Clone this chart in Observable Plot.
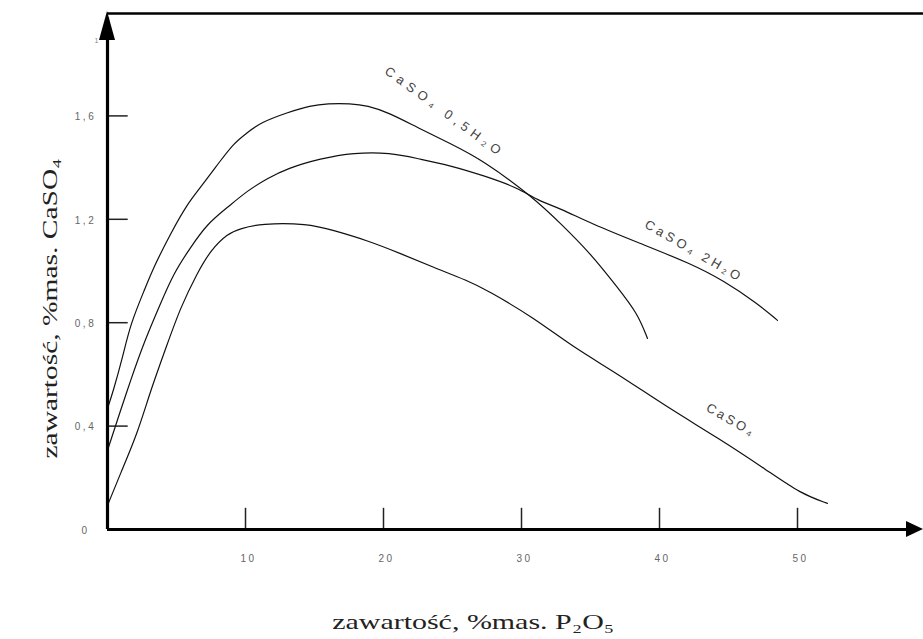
<!DOCTYPE html>
<html>
<head>
<meta charset="utf-8">
<script src="https://cdn.jsdelivr.net/npm/d3@7"></script>
<script src="https://cdn.jsdelivr.net/npm/@observablehq/plot@0.6"></script>
<style>
  html, body { margin: 0; padding: 0; background: #fff; }
  #chart svg { display: block; background: #fff; }
</style>
</head>
<body>
<div id="chart"></div>
<script>
// ---- data ----
const xTickValues = [10, 20, 30, 40, 50];
const xTickLabels = ["10", "20", "30", "40", "50"];
const yTickValues = [0, 0.4, 0.8, 1.2, 1.6];
const yTickLabels = ["0", "0,4", "0,8", "1,2", "1,6"];

// CaSO4·0,5H2O
const hemiX = [0, 0.43, 1.09, 1.67, 2.75, 3.33, 4.57, 5.80, 6.74, 8.19, 9.13, 10.14, 11.09, 13.04, 14.71, 15.94, 17.61, 18.84, 20.36, 22.46, 24.86, 27.25, 30.87, 32.83, 35.0, 36.96, 38.41, 39.13];
const hemiY = [0.468, 0.538, 0.665, 0.797, 0.936, 1.013, 1.145, 1.261, 1.323, 1.427, 1.493, 1.536, 1.574, 1.613, 1.640, 1.648, 1.648, 1.640, 1.613, 1.555, 1.493, 1.427, 1.284, 1.184, 1.068, 0.936, 0.836, 0.739];

// CaSO4·2H2O
const dihX = [0, 0.94, 1.67, 2.61, 3.84, 4.78, 6.01, 7.25, 8.70, 10.14, 11.59, 13.04, 15.43, 17.83, 20.51, 22.46, 24.86, 27.25, 29.71, 31.16, 32.83, 35.0, 38.62, 42.25, 44.64, 47.10, 48.55];
const dihY = [0.306, 0.460, 0.576, 0.720, 0.874, 0.990, 1.091, 1.184, 1.246, 1.311, 1.358, 1.397, 1.435, 1.458, 1.458, 1.435, 1.408, 1.369, 1.323, 1.273, 1.242, 1.184, 1.106, 1.029, 0.963, 0.874, 0.809];

// CaSO4
const anhX = [0, 0.94, 2.17, 3.12, 4.35, 5.29, 6.52, 7.46, 8.70, 9.64, 11.09, 14.49, 16.38, 18.84, 21.23, 23.62, 26.09, 27.54, 30.87, 33.77, 36.96, 40.58, 44.20, 47.83, 50.22, 52.17];
const anhY = [0.093, 0.217, 0.371, 0.538, 0.720, 0.859, 0.994, 1.079, 1.145, 1.164, 1.184, 1.184, 1.157, 1.118, 1.068, 1.014, 0.963, 0.925, 0.820, 0.704, 0.603, 0.472, 0.356, 0.228, 0.139, 0.101];

const curveNames = ["CaSO₄ 0,5H₂O", "CaSO₄ 2H₂O", "CaSO₄"];
const xTitle = "zawartość, %mas. P₂O₅";
const yTitle = "zawartość, %mas. CaSO₄";

// annotation placement (label anchors along curves, in data units)
const labelX = [24.3, 42.4, 45.1];
const labelY = [1.62, 1.08, 0.425];
const labelAngle = [36, 30, 30];
const labelLength = [140, 108, 52];

// ---- build tables ----
const toRows = (xs, ys, name) => xs.map((x, i) => ({x, y: ys[i], name}));
const rows = [
  ...toRows(hemiX, hemiY, curveNames[0]),
  ...toRows(dihX, dihY, curveNames[1]),
  ...toRows(anhX, anhY, curveNames[2])
];
const xTicks = xTickValues.map((v, i) => ({v, label: xTickLabels[i]}));
const yTicks = yTickValues.map((v, i) => ({v, label: yTickLabels[i]}));
const labels = curveNames.map((t, i) => ({t, x: labelX[i], y: labelY[i], a: labelAngle[i]}));

const X_MAX = 59.13, Y_MAX = 2;

const arrowHeads = (index, scales) => {
  const g = d3.create("svg:g").attr("fill", "#000");
  const x0 = scales.x(0), y0 = scales.y(0);
  const yt = scales.y(Y_MAX), xt = scales.x(X_MAX);
  g.append("path").attr("d", `M${x0},${yt - 1}L${x0 - 8},${yt + 28}L${x0 + 8},${yt + 28}Z`);
  g.append("path").attr("d", `M${xt},${y0}L${xt - 17},${y0 - 8}L${xt - 17},${y0 + 8}Z`);
  return g.node();
};

const serif = "Liberation Serif, Times New Roman, serif";

const chart = Plot.plot({
  width: 923,
  height: 639,
  marginLeft: 107,
  marginRight: 0,
  marginTop: 12,
  marginBottom: 110,
  x: {domain: [0, X_MAX], axis: null},
  y: {domain: [0, Y_MAX], axis: null},
  style: {fontFamily: "Liberation Sans, Arial, sans-serif", background: "#fff"},
  marks: [
    // inward ticks
    Plot.ruleX(xTicks, {x: "v", y1: 0, y2: 0.082, stroke: "#222", strokeWidth: 1.5}),
    Plot.ruleY(yTicks.filter(d => d.v > 0), {y: "v", x1: 0, x2: 1.5, stroke: "#222", strokeWidth: 1.5}),
    // curves
    Plot.line(rows, {x: "x", y: "y", z: "name", curve: "basis", stroke: "#111", strokeWidth: 1.2}),
    // axes lines + top border
    Plot.ruleX([0], {y1: 0, y2: Y_MAX * 0.99, stroke: "#000", strokeWidth: 3.2}),
    Plot.ruleY([0], {x1: 0, x2: X_MAX * 0.985, stroke: "#000", strokeWidth: 3.2}),
    Plot.ruleY([Y_MAX], {x1: 0, x2: X_MAX, stroke: "#000", strokeWidth: 2.4, dy: 1}),
    arrowHeads,
    // tick labels
    Plot.text(xTicks, {x: "v", y: 0, text: "label", dy: 29, dx: 3, fontSize: 10, fill: "#666"}),
    Plot.text(yTicks, {x: 0, y: "v", text: "label", dx: -22, dy: 1, textAnchor: "middle", fontSize: 10, fill: "#666"}),
    Plot.text(["1"], {x: 0, y: 1.89, dx: -11, fontSize: 7, fill: "#888"}),
    // curve labels
    Plot.text(labels, {x: "x", y: "y", text: "t", rotate: "a", fontSize: 13, fill: "#444"}),
    // axis titles (anchored in data space outside the frame)
    Plot.text([yTitle], {x: -4.13, y: 0.855, rotate: -90, fontSize: 21, fill: "#222", fontFamily: serif}),
    Plot.text([xTitle], {x: 26.5, y: -0.36, fontSize: 21, fill: "#222", fontFamily: serif})
  ]
});

// typographic adjustments: letter spacing / stretched text as in the reference
const svg = d3.select(chart);
const tickSet = new Set([...xTickLabels, ...yTickLabels]);
svg.selectAll("text").each(function () {
  const t = this.textContent;
  const sel = d3.select(this);
  if (tickSet.has(t)) sel.style("letter-spacing", "2.5px");
  const li = curveNames.indexOf(t);
  if (li >= 0) sel.attr("textLength", labelLength[li]).attr("lengthAdjust", "spacing");
  if (t === yTitle) sel.attr("textLength", 300).attr("lengthAdjust", "spacingAndGlyphs");
  if (t === xTitle) sel.attr("textLength", 282).attr("lengthAdjust", "spacingAndGlyphs");
});

document.getElementById("chart").appendChild(chart);
</script>
</body>
</html>
